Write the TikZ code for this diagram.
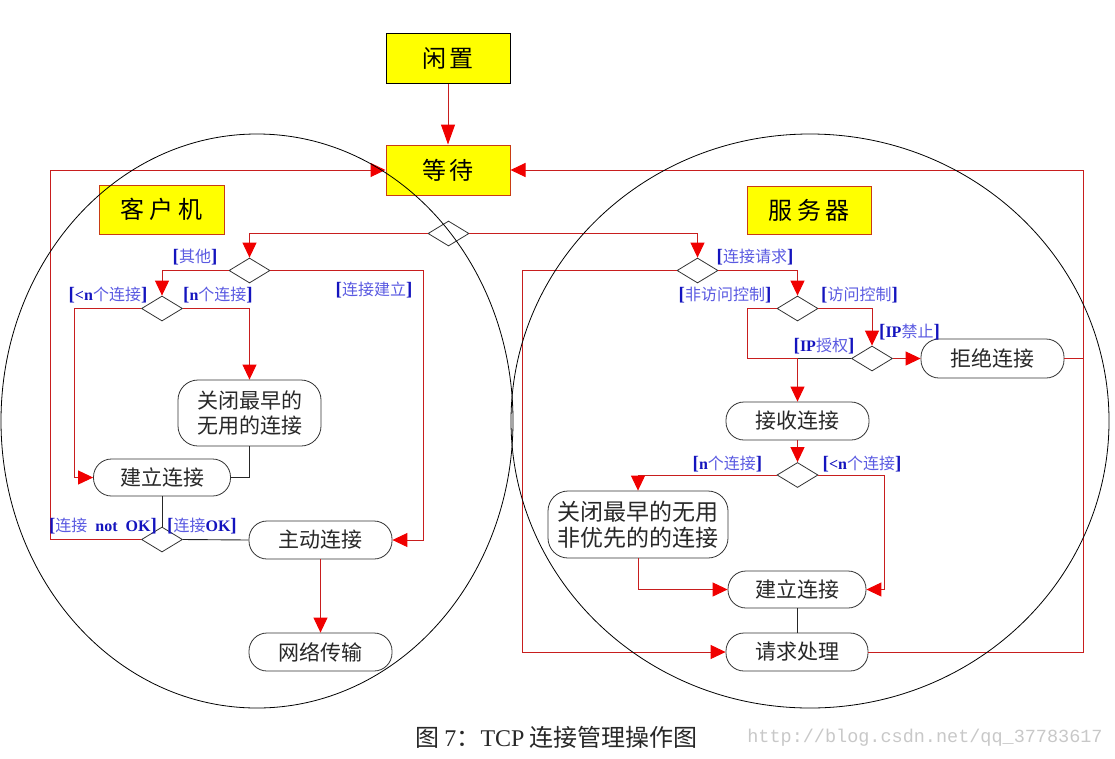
\documentclass[tikz,border=0pt]{standalone}
\usepackage{fontspec}
\setmainfont{Noto Sans CJK SC}
\newfontfamily\latf{Liberation Serif}
\newfontfamily\monof{Liberation Mono}
\usetikzlibrary{shapes.geometric,arrows.meta}
\definecolor{lred}{RGB}{200,30,30}
\definecolor{ared}{RGB}{240,0,0}
\definecolor{yfill}{RGB}{255,255,0}
\definecolor{yborder}{RGB}{200,60,20}
\definecolor{lblb}{RGB}{20,20,190}
\definecolor{lblt}{RGB}{90,90,225}
\definecolor{txt}{RGB}{40,40,40}
\definecolor{wmark}{RGB}{200,200,200}
\newcommand{\lbr}[1]{{\latf\bfseries\fontsize{19}{20}\selectfont\color{lblb}[}{\color{lblt}#1}{\latf\bfseries\fontsize{19}{20}\selectfont\color{lblb}]}}
\newcommand{\bl}[1]{{\latf\bfseries\color{lblb}#1}}
\begin{document}
\begin{tikzpicture}[x=1pt,y=-1pt,
  ybox/.style={draw=yborder, line width=1pt, fill=yfill, minimum width=124pt, minimum height=50pt, inner sep=0pt, font=\fontsize{24}{28}\selectfont},
  act/.style={draw=black!80, line width=0.8pt, rounded corners=18pt, fill=white, minimum width=143pt, minimum height=38pt, inner sep=0pt, align=center, text=txt, font=\fontsize{21}{25}\selectfont},
  dec/.style={diamond, draw=black!80, line width=0.8pt, fill=white, minimum width=41pt, minimum height=25pt, inner sep=0pt},
  flow/.style={draw=lred, line width=1pt},
  arr/.style={flow, -{Triangle[length=15pt,width=14pt,color=ared]}},
  blk/.style={draw=black!85, line width=0.9pt},
  lbl/.style={inner sep=0pt, font=\fontsize{16}{18}\selectfont}
]
\useasboundingbox (0,0) rectangle (1115,758);

% top boxes
\node[ybox, draw=black] (idle) at (448,58) {闲\hspace{3pt}置};
\node[ybox] (wait) at (448,170) {等\hspace{3pt}待};
\node[ybox, minimum width=125pt, minimum height=49pt] (client) at (161.5,209.5) {客\hspace{5pt}户\hspace{5pt}机};
\node[ybox, minimum width=124pt, minimum height=48pt] (server) at (809,210) {服\hspace{5pt}务\hspace{5pt}器};

% decisions
\node[dec] (dTop) at (448.5,233.5) {};
\node[dec] (dC1) at (249.5,270.5) {};
\node[dec] (dC2) at (162,308.5) {};
\node[dec] (dC3) at (162,539.5) {};
\node[dec] (dS1) at (697.5,270.5) {};
\node[dec] (dS2) at (797.5,308.5) {};
\node[dec] (dS3) at (872,358.5) {};
\node[dec] (dS4) at (797.5,475) {};

% activities client
\node[act, minimum height=66pt, rounded corners=20pt] (closeC) at (249.5,413) {关闭最早的\\无用的连接};
\node[act, minimum width=137pt, minimum height=37pt] (estC) at (162,477.5) {建立连接};
\node[act] (activeC) at (320.5,540) {主动连接};
\node[act] (netC) at (320.5,652) {网络传输};

% activities server
\node[act, minimum height=39pt] (rejectS) at (992.5,358.5) {拒绝连接};
\node[act] (acceptS) at (797.5,421) {接收连接};
\node[act, minimum width=180pt, minimum height=67pt, rounded corners=20pt, font=\fontsize{23}{26}\selectfont] (closeS) at (638,524.5) {关闭最早的无用\\非优先的的连接};
\node[act, minimum width=138pt, minimum height=37pt] (estS) at (797,589.5) {建立连接};
\node[act, minimum width=142pt] (reqS) at (797,652) {请求处理};

% turning points
\coordinate (tL) at (50,170);
\coordinate (cb) at (423,270.5);
\coordinate (c2) at (74,308.5);
\coordinate (s1) at (522,270.5);
\coordinate (s2) at (747,308.5);
\coordinate (jS) at (797.5,358.5);
\coordinate (rj) at (1083,358.5);
\coordinate (rt) at (1083,170);
\coordinate (s4) at (884,475);

% connectors
\draw[flow, -{Triangle[length=20pt,width=14pt,color=ared]}] (idle) -- (wait);
\draw[arr] (dTop.west) -| (dC1.north);
\draw[arr] (dTop.east) -| (dS1.north);
\draw[arr] (dC1.west) -| (dC2.north);
\draw[arr] (dC1.east) -- (cb) |- (activeC.east);
\draw[arr] (dC2.west) -- (c2) |- (estC.west);
\draw[arr] (dC2.east) -| (closeC.north);
\draw[blk] (closeC.south) |- (estC.east);
\draw[blk] (estC.south) -- (dC3.north);
\draw[blk] (activeC.west) -- (dC3.east);
\draw[arr] (dC3.west) -| (tL) -- (wait.west);
\draw[arr] (activeC.south) -- (netC.north);

\draw[arr] (dS1.west) -- (s1) |- (reqS.west);
\draw[arr] (dS1.east) -| (dS2.north);
\draw[flow] (dS2.west) -- (s2) |- (jS);
\draw[arr] (dS2.east) -| (dS3.north);
\draw[blk] (dS3.west) -- (jS);
\draw[arr] (jS) -- (acceptS.north);
\draw[arr] (dS3.east) -- (rejectS.west);
\draw[flow] (rejectS.east) -- (rj);
\draw[arr] (reqS.east) -| (rt) -- (wait.east);
\draw[arr] (acceptS.south) -- (dS4.north);
\draw[arr] (dS4.west) -| (closeS.north);
\draw[arr] (closeS.south) |- (estS.west);
\draw[arr] (dS4.east) -- (s4) |- (estS.east);
\draw[blk] (estS.south) -- (reqS.north);

% guard labels
\node[lbl] (lQita) at (195,257) {\lbr{其他}};
\node[lbl] (lJlC) at (374,290) {\lbr{连接建立}};
\node[lbl] (lLtn) at (108,295) {\lbr{\bl{<n}个连接}};
\node[lbl] (lN) at (218,295) {\lbr{\bl{n}个连接}};
\node[lbl] (lNotOK) at (103,526) {\lbr{连接\hspace{8pt}\bl{not\hspace{8pt}OK}}};
\node[lbl] (lOK) at (202,526) {\lbr{连接\bl{OK}}};
\node[lbl] (lReq) at (755,257) {\lbr{连接请求}};
\node[lbl] (lNac) at (725,295) {\lbr{非访问控制}};
\node[lbl] (lAc) at (859.5,295) {\lbr{访问控制}};
\node[lbl] (lIPno) at (909.5,332) {\lbr{\bl{IP}禁止}};
\node[lbl] (lIPok) at (824,346) {\lbr{\bl{IP}授权}};
\node[lbl] (lSn) at (727.5,464) {\lbr{\bl{n}个连接}};
\node[lbl] (lSltn) at (862,464) {\lbr{\bl{<n}个连接}};

% region circles
\draw[black, line width=0.8pt] (257,421) ellipse [x radius=256pt, y radius=287pt];
\draw[black, line width=0.8pt] (810,421) ellipse [x radius=299pt, y radius=287pt];

% caption and watermark
\node[inner sep=0pt, text=txt, font=\fontsize{24}{28}\selectfont] (cap) at (556.5,737) {图 {\latf 7}：{\latf TCP} 连接管理操作图};
\node[inner sep=0pt, text=wmark, font=\fontsize{18.5}{20}\selectfont\monof] (wm) at (925,738) {http://blog.csdn.net/qq\_37783617};
\end{tikzpicture}
\end{document}
